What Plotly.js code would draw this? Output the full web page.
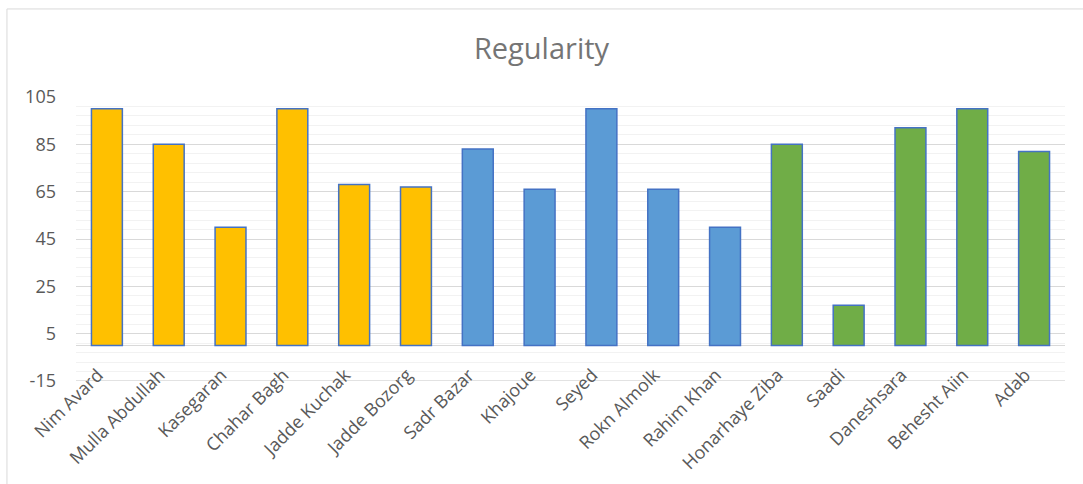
<!DOCTYPE html>
<html>
<head>
<meta charset="utf-8">
<script src="https://cdn.plot.ly/plotly-3.0.1.min.js"></script>
<style>html,body{margin:0;padding:0;background:#fff;}#chart{width:1083px;height:484px;}</style>
</head>
<body>
<div id="chart"></div>
<script>
const categories = ["Nim Avard","Mulla Abdullah","Kasegaran","Chahar Bagh","Jadde Kuchak","Jadde Bozorg","Sadr Bazar","Khajoue","Seyed","Rokn Almolk","Rahim Khan","Honarhaye Ziba","Saadi","Daneshsara","Behesht Aiin","Adab"];
const values = [100,85,50,100,68,67,83,66,100,66,50,85,17,92,100,82];
const groups = ["A","A","A","A","A","A","B","B","B","B","B","C","C","C","C","C"];
const groupColors = {A:"#FFC000", B:"#5B9BD5", C:"#70AD47"};
const yTicks = [-15,5,25,45,65,85,105];

const trace = {
  type: "bar",
  x: categories,
  y: values,
  marker: {color: groups.map(g => groupColors[g]), line: {color: "#4472C4", width: 1.5}},
  hoverinfo: "x+y"
};

const font = "'Open Sans', 'Noto Sans', sans-serif";
const layout = {
  width: 1083, height: 484,
  margin: {l: 76, r: 18, t: 97, b: 103},
  paper_bgcolor: "#fff", plot_bgcolor: "#fff",
  bargap: 0.5,
  showlegend: false,
  title: {text: "Regularity", font: {family: font, size: 29, color: "#757575"}, x: 0.5, xanchor: "center", y: 0.9, yanchor: "middle"},
  xaxis: {
    type: "category",
    tickangle: -45,
    tickfont: {family: font, size: 18, color: "#595959"},
    showgrid: false, showline: false, ticks: "",
    anchor: "free", position: 0.123,
    ticklabelshift: -9, ticklabelstandoff: 14,
    automargin: false
  },
  yaxis: {
    range: [yTicks[0], yTicks[yTicks.length - 1]],
    tickvals: yTicks,
    ticktext: yTicks.map(String),
    tickfont: {family: font, size: 18, color: "#595959"},
    gridcolor: "#D9D9D9", gridwidth: 1,
    minor: {dtick: 4, tick0: 5, showgrid: true, gridcolor: "#F2F2F2", gridwidth: 1},
    zeroline: true, zerolinecolor: "#D9D9D9", zerolinewidth: 1,
    showline: false, ticks: "", ticklabelstandoff: 19,
    automargin: false
  },
  shapes: [
    {type: "rect", xref: "paper", yref: "paper", x0: -0.0698, x1: 1.05, y0: -0.5, y1: 1.31,
     line: {color: "#D9D9D9", width: 1}, fillcolor: "rgba(0,0,0,0)", layer: "below"},
    {type: "line", xref: "paper", yref: "y", x0: 0, x1: 1, y0: yTicks[0], y1: yTicks[0],
     line: {color: "#D9D9D9", width: 1.5}, layer: "below"}
  ]
};

Plotly.newPlot("chart", [trace], layout, {displayModeBar: false, staticPlot: true});
</script>
</body>
</html>
